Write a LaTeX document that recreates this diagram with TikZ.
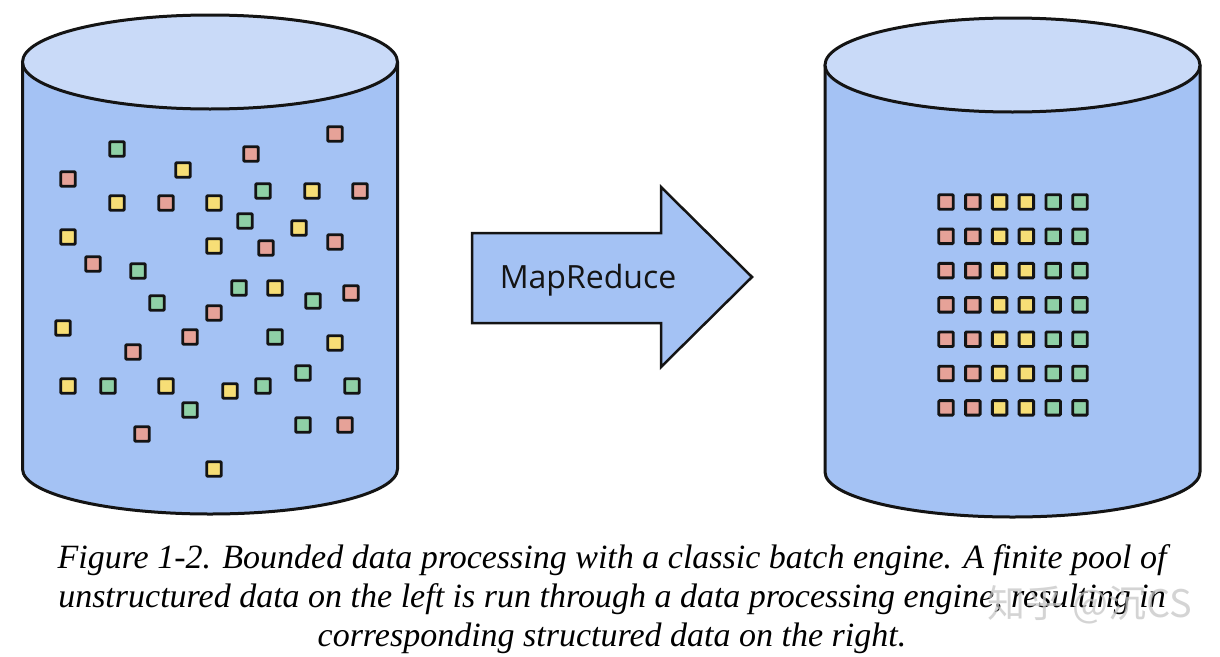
\documentclass[tikz,border=0pt]{standalone}
\usepackage{fontspec}
\setmainfont{Liberation Serif}
\newfontfamily\arrowfont{Open Sans}
\newfontfamily\cjkfont{Noto Sans CJK SC}
\usepackage{tikz}
\usetikzlibrary{calc}
\definecolor{cylbody}{HTML}{A4C2F4}
\definecolor{cyltop}{HTML}{C9DAF8}
\definecolor{sqred}{HTML}{E6A298}
\definecolor{sqyellow}{HTML}{F7DE76}
\definecolor{sqgreen}{HTML}{8FD0A6}
\definecolor{ink}{HTML}{141414}

\begin{document}
\begin{tikzpicture}[
  x=1pt, y=-1pt,
  cyl/.style={draw=ink, line width=3pt, fill=cylbody, line join=round},
  lid/.style={draw=ink, line width=3pt, fill=cyltop},
  sqr/.style={draw=ink, line width=2.9pt, minimum size=14.5pt, inner sep=0pt, rounded corners=1pt, fill=#1},
  flow/.style={draw=ink, line width=2.5pt, fill=cylbody, line join=miter},
  caption/.style={font=\fontsize{34}{40}\selectfont\itshape, anchor=base},
]
\useasboundingbox (0,0) rectangle (1220,656);

% Left cylinder (unstructured pool)
\draw[cyl] (22.5,62) -- (22.5,469) arc[start angle=180, end angle=0, x radius=187.5, y radius=45] -- (397.5,62) -- cycle;
\draw[lid] (210,62) ellipse [x radius=187.5, y radius=47];

% Right cylinder (structured result)
\draw[cyl] (825,65) -- (825,472) arc[start angle=180, end angle=0, x radius=187.5, y radius=45] -- (1200,65) -- cycle;
\draw[lid] (1012.5,65) ellipse [x radius=187.5, y radius=47];

% Scattered records
\foreach \x/\y/\c [count=\i] in {
  335/134/red, 117/149/green, 251/154/red, 183/170/yellow, 68/179/red,
  263/191/green, 312/191/yellow, 360/191/red, 117/203/yellow, 166/203/red,
  214/203/yellow, 245/221/green, 299/228/yellow, 68/237/yellow, 214/246/yellow,
  266/248/red, 335/242/red, 93/264/red, 138/271/green, 239/288/green,
  275/288/yellow, 313/301/green, 351/293/red, 157/303/green, 214/313/red,
  63/328/yellow, 190/337/red, 275/337/green, 335/343/yellow, 133/352/red,
  68/386/yellow, 108/386/green, 166/386/yellow, 230/391/yellow, 263/386/green,
  303/373/green, 352/386/green, 190/410/green, 142/434/red, 303/425/green,
  345/425/red, 214/469/yellow}
  \node[sqr=sq\c] (lsq\i) at (\x,\y) {};

% Sorted records
\foreach \col/\c in {0/red, 1/red, 2/yellow, 3/yellow, 4/green, 5/green}
  \foreach \row in {0,...,6}
    \node[sqr=sq\c] (rsq-\row-\col) at ({946+26.8*\col},{202+34.3*\row}) {};

% MapReduce arrow
\draw[flow] (472,233) -- (661,233) -- (661,187) -- (752,277) -- (661,367) -- (661,323) -- (472,323) -- cycle;
\node[font=\arrowfont\fontsize{32}{38}\selectfont, text=ink] (mr) at (588,280) {MapReduce};

% Caption
\node[caption] (cap1) at (612,568) {Figure 1-2. Bounded data processing with a classic batch engine. A finite pool of};
\node[caption] (cap2) at (612,607) {unstructured data on the left is run through a data processing engine, resulting in};
\node[caption] (cap3) at (612,646) {corresponding structured data on the right.};

% Watermark
\node[font=\cjkfont\fontsize{38}{40}\selectfont, text=gray!45, opacity=0.75] (wm) at (1090,605) {知乎 @沉CS};

\end{tikzpicture}
\end{document}
